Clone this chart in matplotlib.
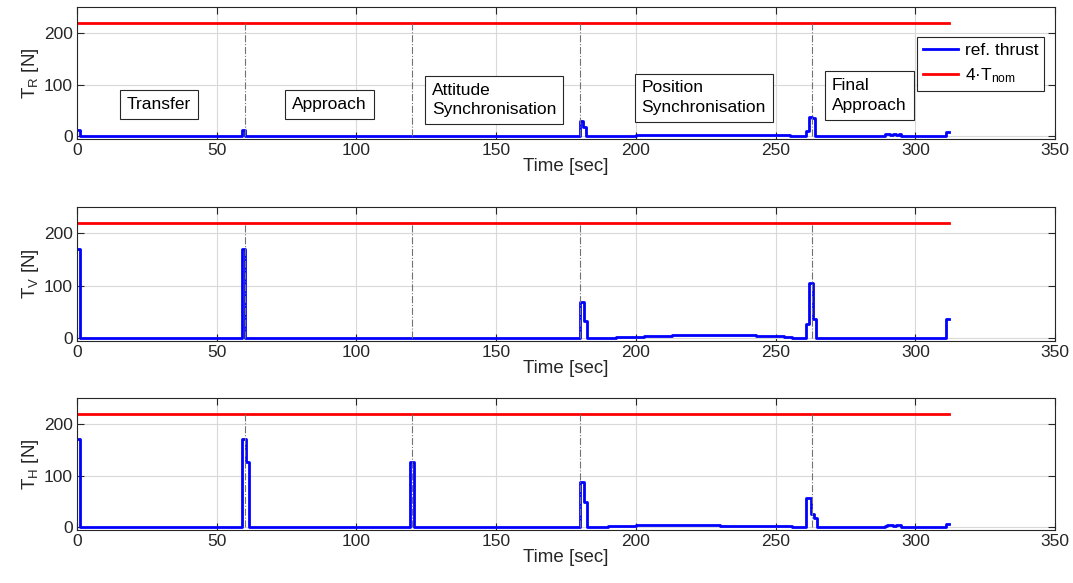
import matplotlib

matplotlib.use("Agg")
import matplotlib.pyplot as plt

plt.rcParams["font.family"] = ["Liberation Sans", "DejaVu Sans"]
plt.rcParams["mathtext.default"] = "regular"

# time [sec] / thrust [N] step series (steps-post)
TR_T = [0, 1, 59, 60, 180, 181, 182, 190, 195, 200, 205, 210, 215, 220, 225, 230,
        235, 240, 245, 250, 255, 261, 262, 263, 264,
        289, 290, 291, 292, 293, 294, 295, 311, 312]
TR_V = [12, 0.5, 12, 0.5, 30, 19, 0.5, 1, 1.5, 2, 2.5, 3, 3.3, 3.5, 3.6, 3.5,
        3.3, 3, 2.5, 2, 1, 10, 38, 35, 0.5,
        4, 5, 3, 5, 3, 5, 0.5, 8, 8]

TV_T = [0, 1, 59, 60, 180, 181.5, 182.5, 188, 193, 198, 203, 208, 213, 218, 223,
        228, 233, 238, 243, 248, 253, 256,
        261, 262, 263.5, 264.5, 290, 295, 311, 312]
TV_V = [170, 0.5, 170, 0.5, 69, 34, 0.5, 1, 1.8, 2.8, 3.8, 4.8, 5.7, 6.4, 6.9,
        7, 6.8, 6, 5, 3.8, 2.5, 0.5,
        27, 106, 36, 0.5, 1.5, 0.5, 37, 37]

TH_T = [0, 1, 59, 60.3, 61.5, 119, 120.7, 180, 181.3, 182.5, 190, 195, 200, 205,
        210, 215, 220, 225, 230, 235, 240, 245, 250, 256, 261, 262.8, 263.8, 264.7,
        289, 290, 292, 293, 295, 311, 312]
TH_V = [170, 0.5, 170, 127, 0.5, 127, 0.5, 88, 50, 0.5, 2, 3, 4, 4.8,
        5.3, 5.5, 5.2, 4.5, 3.7, 3, 2.5, 2, 1.8, 0.5, 57, 25, 18, 0.5,
        3, 4, 2.5, 4, 0.5, 7, 7]

T_NOM4 = 220
T_END = 312
PHASE_TIMES = [60, 120, 180, 263]

PHASES = ["Transfer", "Approach", "Attitude\nSynchronisation",
          "Position\nSynchronisation", "Final\nApproach"]
PHASE_POS = [(29.4, 62), (90.3, 62), (149.2, 70), (224.3, 75), (283.5, 79)]

YLABELS = ["T$_R$ [N]", "T$_V$ [N]", "T$_H$ [N]"]

fig = plt.figure(figsize=(10.73, 5.83), dpi=100)
rects = [
    [0.0718, 0.7616, 0.9115, 0.2264],
    [0.0718, 0.4151, 0.9115, 0.2298],
    [0.0718, 0.0909, 0.9115, 0.2264],
]
series = [(TR_T, TR_V), (TV_T, TV_V), (TH_T, TH_V)]

for i, (rect, (t, v)) in enumerate(zip(rects, series)):
    ax = fig.add_axes(rect)
    for tp in PHASE_TIMES:
        ax.plot([tp, tp], [0, T_NOM4], color="0.45", lw=0.8, ls="-.", zorder=3)
    ax.plot(t, v, color="#0000FF", lw=2, drawstyle="steps-post",
            label="ref. thrust", zorder=2)
    ax.plot([0, T_END], [T_NOM4, T_NOM4], color="#FF0000", lw=2,
            label="4·T$_{nom}$", zorder=2)
    ax.set_xlim(0, 350)
    ax.set_ylim(-5, 250)
    ax.set_xticks(range(0, 351, 50))
    ax.set_yticks([0, 100, 200])
    ax.grid(True, color="0.85", lw=0.8)
    ax.set_axisbelow(True)
    ax.tick_params(direction="in", top=True, right=True, labelsize=12.5,
                   colors="0.15", length=5, pad=3)
    for s in ax.spines.values():
        s.set_color("0.15")
        s.set_linewidth(0.8)
    ax.set_xlabel("Time [sec]", fontsize=13.5, color="0.15", labelpad=0)
    ax.set_ylabel(YLABELS[i], fontsize=13.5, color="0.15", labelpad=2)
    if i == 0:
        for name, (x, y) in zip(PHASES, PHASE_POS):
            ax.text(x, y, name, fontsize=12.5, ha="center", va="center",
                    multialignment="left", linespacing=1.35,
                    bbox=dict(boxstyle="square,pad=0.4", fc="white", ec="0.15", lw=0.8))
        leg = ax.legend(loc="upper right", bbox_to_anchor=(0.989, 0.773),
                        fontsize=12.5, fancybox=False, framealpha=1,
                        edgecolor="0.15", handlelength=2.0, borderpad=0.35,
                        labelspacing=0.45, handletextpad=0.4, borderaxespad=0)
        leg.get_frame().set_linewidth(0.8)

fig.savefig("out.png", dpi=100)
